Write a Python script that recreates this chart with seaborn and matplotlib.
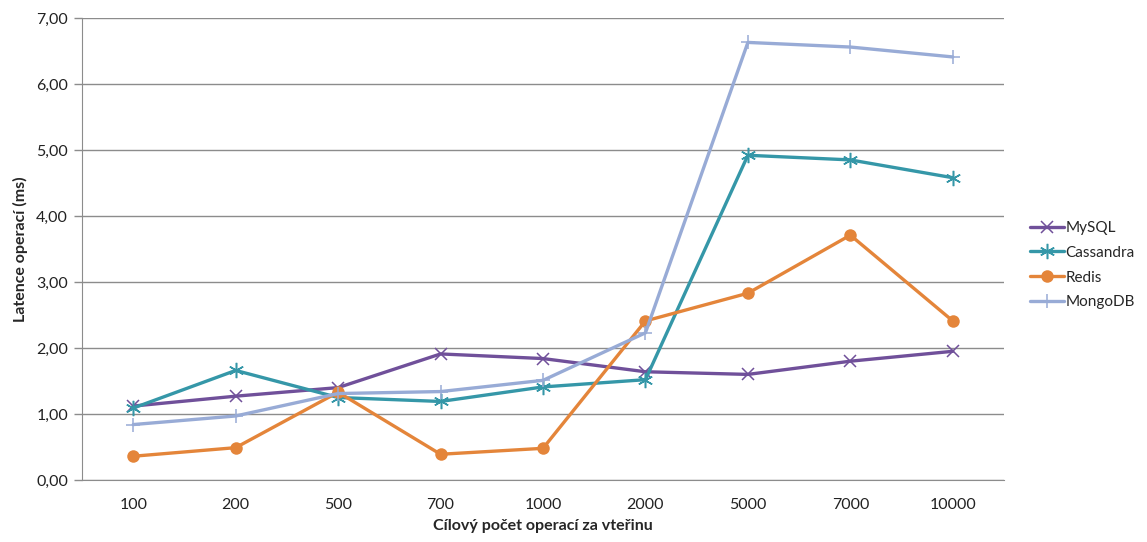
import matplotlib.pyplot as plt
import matplotlib.ticker as mticker
import seaborn as sns
import pandas as pd

# operations per second (categorical x axis)
targets = ['100', '200', '500', '700', '1000', '2000', '5000', '7000', '10000']

mysql = [1.12, 1.27, 1.40, 1.91, 1.84, 1.64, 1.60, 1.80, 1.95]
cassandra = [1.09, 1.66, 1.25, 1.19, 1.41, 1.52, 4.92, 4.85, 4.58]
redis = [0.36, 0.49, 1.33, 0.39, 0.48, 2.41, 2.83, 3.71, 2.41]
mongodb = [0.84, 0.97, 1.31, 1.34, 1.51, 2.23, 6.63, 6.56, 6.41]

series = {'MySQL': mysql, 'Cassandra': cassandra, 'Redis': redis, 'MongoDB': mongodb}

sns.set_style('white')
plt.rcParams['font.family'] = ['Lato', 'DejaVu Sans']

colors = {'MySQL': '#70509a', 'Cassandra': '#3597a8', 'Redis': '#e4853a', 'MongoDB': '#98abd6'}
markers = {'MySQL': 'x', 'Cassandra': (6, 2, 0), 'Redis': 'o', 'MongoDB': '+'}
msizes = {'MySQL': 9, 'Cassandra': 11, 'Redis': 9, 'MongoDB': 10}

fig = plt.figure(figsize=(11.47, 5.42), dpi=100)
ax = fig.add_axes([82 / 1147, 62 / 542, 922 / 1147, 462 / 542])

for name, vals in series.items():
    d = pd.DataFrame({'target': targets, 'latency': vals})
    filled = name == 'Redis'
    sns.lineplot(data=d, x='target', y='latency', sort=False, ax=ax, label=name,
                 color=colors[name], marker=markers[name], linewidth=2.4,
                 markersize=msizes[name],
                 markeredgewidth=0 if filled else 1.1,
                 markeredgecolor=colors[name])

ax.set_ylim(0, 7)
ax.set_xlim(-0.5, len(targets) - 0.5)
ax.yaxis.set_major_locator(mticker.MultipleLocator(1))
ax.yaxis.set_major_formatter(mticker.FuncFormatter(lambda v, p: f'{v:.2f}'.replace('.', ',')))
ax.yaxis.grid(True, color='#8c8c8c', linewidth=1)
ax.set_axisbelow(True)

# Excel-style tick marks between categories
ax.set_xticks(range(len(targets)))
ax.set_xticklabels(targets)
ax.set_xticks([i + 0.5 for i in range(-1, len(targets))], minor=True)
ax.tick_params(axis='x', which='major', length=0, labelsize=11.5, pad=13, labelcolor='#222222')
ax.tick_params(axis='x', which='minor', length=6, color='#8c8c8c', width=1)
ax.tick_params(axis='y', length=6, color='#8c8c8c', width=1, labelsize=11.5, left=True, pad=4,
               labelcolor='#222222')

ax.spines[['right', 'top']].set_visible(False)
ax.spines['left'].set_color('#8c8c8c')
ax.spines['bottom'].set_color('#8c8c8c')

ax.set_xlabel('Cílový počet operací za vteřinu', size=11.5, weight='bold', labelpad=5)
ax.set_ylabel('Latence operací (ms)', size=11.5, weight='bold', labelpad=6)

handles, labels = ax.get_legend_handles_labels()
ax.legend(handles, labels, loc='center left', bbox_to_anchor=(1.022, 0.465),
          frameon=False, fontsize=11, handlelength=2.2, handletextpad=0.1,
          labelspacing=0.7, borderaxespad=0)

fig.savefig('out.png', dpi=100)
